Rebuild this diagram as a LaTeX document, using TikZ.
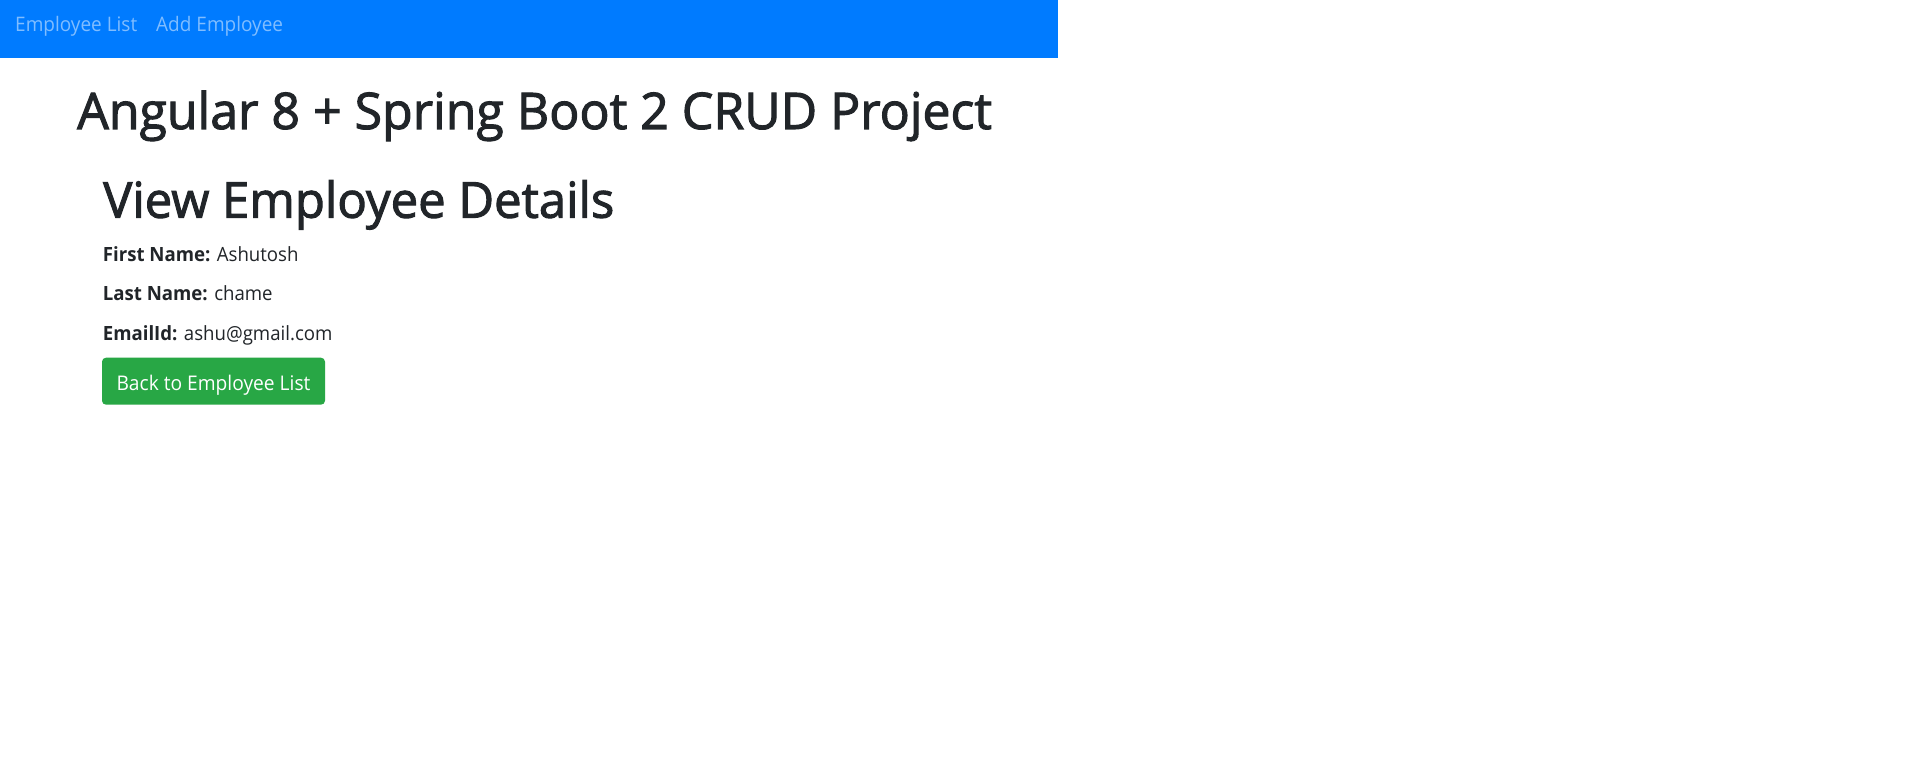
\documentclass[tikz,border=0pt]{standalone}
\usepackage{fontspec}
\setmainfont{Open Sans}[FakeStretch=0.95]
\newfontfamily\headfont{Open Sans}[FakeStretch=0.99, FakeBold=2]
\usepackage{tikz}
\usetikzlibrary{positioning}

\definecolor{navblue}{HTML}{007BFF}
\definecolor{navtext}{HTML}{80BDFF}
\definecolor{textdark}{HTML}{212529}
\definecolor{btngreen}{HTML}{28A745}

\begin{document}
\begin{tikzpicture}
    [x=1pt, y=-1pt,
     navlink/.style={anchor=base west, inner sep=0pt, text=navtext, font=\fontsize{20}{24}\selectfont},
     bigtitle/.style={anchor=base west, inner sep=0pt, text=textdark, font=\headfont\fontsize{50.5}{60}\selectfont},
     subtitle/.style={anchor=base west, inner sep=0pt, text=textdark, font=\headfont\fontsize{49.5}{58}\selectfont},
     field/.style={anchor=base west, inner sep=0pt, text=textdark, font=\fontsize{19.6}{24}\selectfont},
     btn/.style={fill=btngreen, rounded corners=4pt, text=white, minimum width=223pt, minimum height=47pt,
                 text height=20pt, text depth=2.4pt, inner sep=0pt, font=\fontsize{20.2}{24}\selectfont}]
    \useasboundingbox (0,0) rectangle (1920,765);
    \fill[white] (0,0) rectangle (1920,765);
    % navbar
    \fill[navblue] (0,0) rectangle (1058,57.7);
    \node[navlink] (list) at (15,31.7) {Employee List};
    \node[navlink] (add) at (156,31.7) {Add Employee};
    % headings
    \node[bigtitle] (title) at (77,129) {Angular 8 + Spring Boot 2 CRUD Project};
    \node[subtitle] (view) at (103,217.7) {View Employee Details};
    % details
    \node[field] (fname) at (102.7,261) {\textbf{First Name:} Ashutosh};
    \node[field] (lname) at (102.7,300.7) {\textbf{Last Name:} chame};
    \node[field] (email) at (102.7,340.7) {\textbf{EmailId:} ashu@gmail.com};
    \node[btn] (back) at (213.5,381.2) {Back to Employee List};
\end{tikzpicture}
\end{document}
